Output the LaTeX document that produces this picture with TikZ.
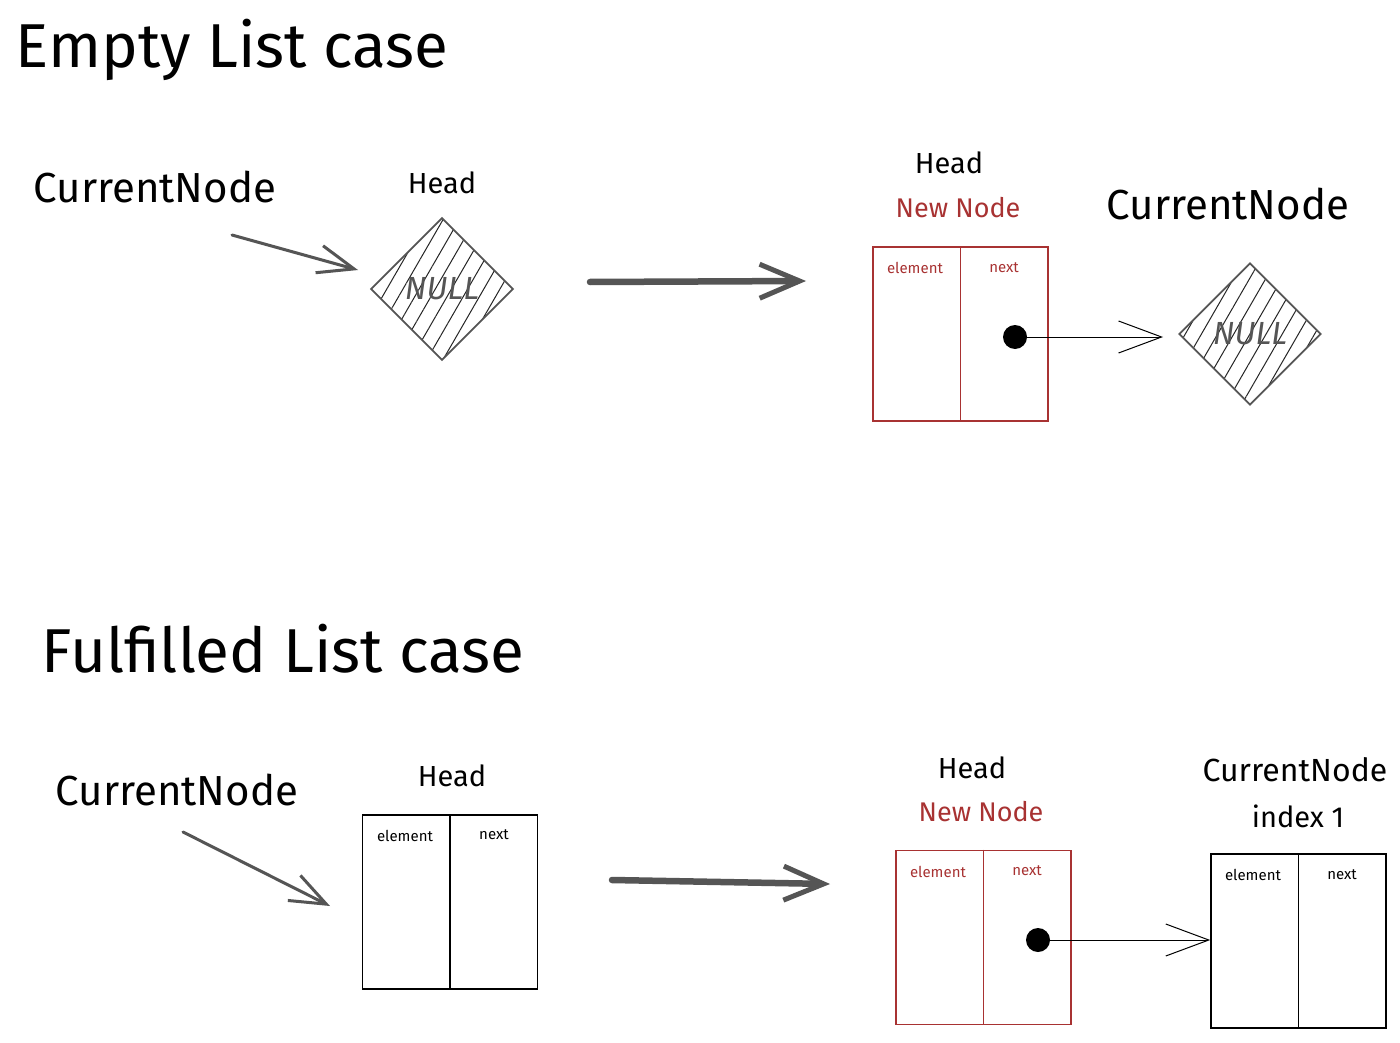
\documentclass[tikz,border=0pt]{standalone}
\usepackage{fontspec}
\setmainfont{Fira Sans}
\usetikzlibrary{shapes.geometric,arrows.meta,patterns.meta}
\definecolor{nred}{HTML}{A83232}
\definecolor{sgray}{HTML}{555555}
\tikzset{
  txt/.style={inner sep=0pt, anchor=base, font=\fontsize{#1}{#1}\selectfont},
  nullnode/.style={diamond, draw=sgray, line width=1.8pt, minimum width=142pt,
    minimum height=142pt, inner sep=0pt,
    pattern={Lines[angle=60,distance=14pt,line width=1pt]}, pattern color=black!85,
    text=sgray, font=\fontsize{32}{32}\itshape},
  listbox/.style={draw=#1, line width=1.6pt, minimum width=175pt, minimum height=174pt, inner sep=0pt},
  divider/.style={draw=#1, line width=1.1pt},
  celltxt/.style={inner sep=0pt, anchor=base, text=#1, font=\fontsize{15}{15}\selectfont},
  bigarrow/.style={draw=sgray, line width=6.5pt, line cap=round,
    -{Straight Barb[length=40pt,width=34pt,line width=5pt]}},
  sketcharrow/.style={draw=sgray, line width=3pt, line cap=round,
    -{Straight Barb[length=36pt,width=28pt,line width=3pt]}},
  ptr/.style={draw=black, line width=1pt, -{Straight Barb[length=43pt,width=32pt,line width=1pt]}},
  ptrdot/.style={circle, fill=black, minimum size=24pt, inner sep=0pt}
}
\begin{document}
\begin{tikzpicture}[x=1pt,y=-1pt]
\useasboundingbox (0,0) rectangle (1400,1043);
\fill[white] (0,0) rectangle (1400,1043);

% ---------- Empty list case ----------
\node[txt=62] (t1) at (232,68) {Empty List case};
\node[txt=42] (cn1) at (155,203) {CurrentNode};
\node[txt=29] (h1) at (442,194) {Head};
\node[nullnode] (null1) at (442,289) {NULL};
\coordinate (a1s) at (232,235);
\coordinate (a1e) at (358,270);
\draw[sketcharrow] (a1s) -- (a1e);

\coordinate (b1s) at (590,282);
\coordinate (b1e) at (806,281);
\draw[bigarrow] (b1s) -- (b1e);

\node[txt=29] (h2) at (949,174) {Head};
\node[txt=27, text=nred] (nn1) at (958,218) {New Node};
\node[listbox=nred] (box1) at (960.5,334) {};
\draw[divider=nred] (box1.north) -- (box1.south);
\node[celltxt=nred] (el1) at (915,273) {element};
\node[celltxt=nred] (nx1) at (1004,272) {next};
\node[ptrdot] (dot1) at (1015,337) {};
\coordinate (p1e) at (1163,337);
\draw[ptr] (dot1.center) -- (p1e);
\node[txt=42] (cn2) at (1228,220) {CurrentNode};
\node[nullnode] (null2) at (1250,334) {NULL};

% ---------- Fulfilled list case ----------
\node[txt=62] (t2) at (283,672) {Fulfilled List case};
\node[txt=42] (cn3) at (177,805) {CurrentNode};
\coordinate (a2s) at (183,832);
\coordinate (a2e) at (330,906);
\draw[sketcharrow] (a2s) -- (a2e);
\node[txt=29] (h3) at (452,786) {Head};
\node[listbox=black] (box2) at (450,902) {};
\draw[divider=black] (box2.north) -- (box2.south);
\node[celltxt=black] (el2) at (405,841) {element};
\node[celltxt=black] (nx2) at (494,839) {next};

\coordinate (b2s) at (612,880);
\coordinate (b2e) at (830,884);
\draw[bigarrow] (b2s) -- (b2e);

\node[txt=29] (h4) at (972,778) {Head};
\node[txt=27, text=nred] (nn2) at (981,821) {New Node};
\node[listbox=nred] (box3) at (983.5,937.5) {};
\draw[divider=nred] (box3.north) -- (box3.south);
\node[celltxt=nred] (el3) at (938,877) {element};
\node[celltxt=nred] (nx3) at (1027,875) {next};
\node[ptrdot] (dot2) at (1038,940) {};

\node[txt=32] (cn4) at (1295,781) {CurrentNode};
\node[txt=29] (ix) at (1298,827) {index 1};
\node[listbox=black] (box4) at (1298.5,941) {};
\draw[divider=black] (box4.north) -- (box4.south);
\node[celltxt=black] (el4) at (1253,880) {element};
\node[celltxt=black] (nx4) at (1342,879) {next};
\draw[ptr] (dot2.center) -- (dot2 -| box4.west);
\end{tikzpicture}
\end{document}
